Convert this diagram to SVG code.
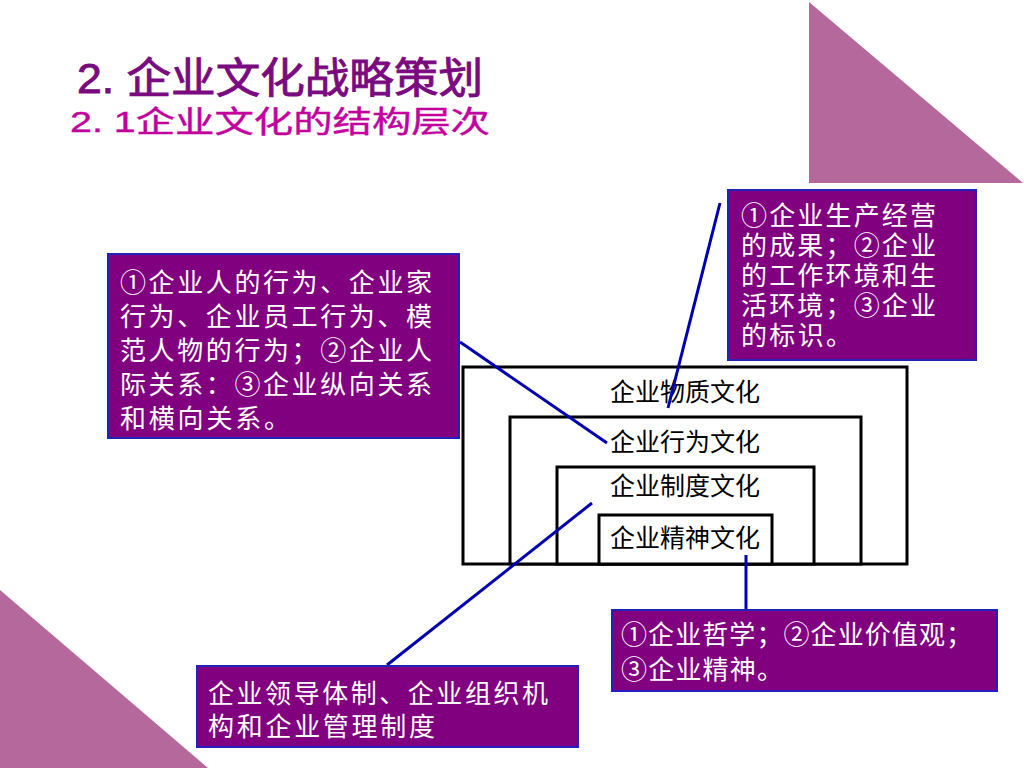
<svg xmlns="http://www.w3.org/2000/svg" width="1024" height="768" viewBox="0 0 1024 768">
<style>
.tri{fill:#B4689B}
.box{fill:#800080;stroke:#2222BB;stroke-width:2}
.bt{fill:#FFFFFF;font-family:"Liberation Sans","Noto Sans CJK SC",sans-serif;font-size:26px}
.layer{fill:#FFFFFF;stroke:#000000;stroke-width:3}
.lt{fill:#000000;font-family:"Liberation Sans","Noto Sans CJK SC",sans-serif;font-size:25px;text-anchor:middle}
.conn{stroke:#0000B0;stroke-width:3;fill:none}
</style>
<rect width="1024" height="768" fill="#FFFFFF"/>
<polygon class="tri" points="809,2 809,183 1023,183"/>
<polygon class="tri" points="0,590 0,768 208,768"/>
<g id="title">
<text x="77" y="93" font-family="'Liberation Sans','Noto Sans CJK SC',sans-serif" font-size="42" fill="#7A0A80" stroke="#7A0A80" stroke-width="0.9" textLength="406" lengthAdjust="spacingAndGlyphs">2. 企业文化战略策划</text>
<text x="70" y="132" font-family="'Liberation Sans','Noto Sans CJK SC',sans-serif" font-size="30" fill="#C2009E" stroke="#C2009E" stroke-width="0.4" textLength="420" lengthAdjust="spacingAndGlyphs">2. 1企业文化的结构层次</text>
</g>
<g id="layers">
<rect class="layer" x="463" y="367" width="444" height="197"/>
<rect class="layer" x="510" y="417" width="351" height="147"/>
<rect class="layer" x="557" y="467" width="257" height="97"/>
<rect class="layer" x="599" y="515" width="173" height="49"/>
<text class="lt" x="685" y="401">企业物质文化</text>
<text class="lt" x="685" y="451">企业行为文化</text>
<text class="lt" x="685" y="495">企业制度文化</text>
<text class="lt" x="685" y="547">企业精神文化</text>
</g>
<g id="connectors">
<line class="conn" x1="460" y1="342" x2="607" y2="443"/>
<line class="conn" x1="720" y1="203" x2="668" y2="408"/>
<line class="conn" x1="387" y1="665" x2="592" y2="503"/>
<line class="conn" x1="746" y1="555" x2="746" y2="610"/>
</g>
<g id="node-behavior">
<rect class="box" x="108" y="254" width="351" height="184"/>
<text class="bt" lengthAdjust="spacingAndGlyphs"><tspan x="120" y="292" textLength="312">①企业人的行为、企业家</tspan><tspan x="120" y="326" textLength="312">行为、企业员工行为、模</tspan><tspan x="120" y="360" textLength="312">范人物的行为；②企业人</tspan><tspan x="120" y="394" textLength="312">际关系：③企业纵向关系</tspan><tspan x="120" y="428" textLength="170">和横向关系。</tspan></text>
</g>
<g id="node-material">
<rect class="box" x="728" y="190" width="248" height="170"/>
<text class="bt" lengthAdjust="spacingAndGlyphs"><tspan x="741" y="225" textLength="195">①企业生产经营</tspan><tspan x="741" y="255" textLength="195">的成果；②企业</tspan><tspan x="741" y="285" textLength="195">的工作环境和生</tspan><tspan x="741" y="315" textLength="195">活环境；③企业</tspan><tspan x="741" y="345" textLength="111">的标识。</tspan></text>
</g>
<g id="node-system">
<rect class="box" x="197" y="666" width="381" height="81"/>
<text class="bt" lengthAdjust="spacingAndGlyphs"><tspan x="208" y="703" textLength="340">企业领导体制、企业组织机</tspan><tspan x="208" y="736" textLength="227">构和企业管理制度</tspan></text>
</g>
<g id="node-spirit">
<rect class="box" x="612" y="610" width="385" height="81"/>
<text class="bt" lengthAdjust="spacingAndGlyphs"><tspan x="621" y="644" textLength="351">①企业哲学；②企业价值观；</tspan><tspan x="621" y="679" textLength="162">③企业精神。</tspan></text>
</g>
</svg>
